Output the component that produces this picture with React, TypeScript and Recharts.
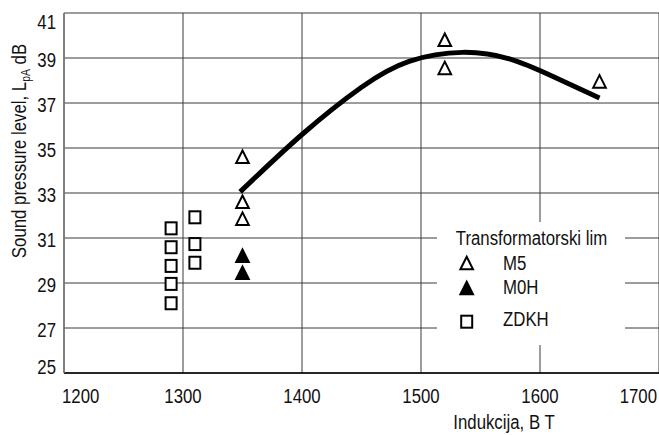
import React from "react";
import {
  ComposedChart,
  Line,
  Scatter,
  XAxis,
  YAxis,
  CartesianGrid,
  Legend,
} from "recharts";

const FONT = "'Liberation Sans', Arial, sans-serif";
const SX = 0.8; // horizontal condensing to mimic a narrow face
const FS = 21;

const xTicks = [1200, 1300, 1400, 1500, 1600, 1700];
const yTicks = [25, 27, 29, 31, 33, 35, 37, 39, 41];

// fitted curve (thick black line)
const curveX = [1348, 1400, 1450, 1490, 1535, 1575, 1610, 1650];
const curveY = [33.05, 35.6, 37.7, 38.85, 39.25, 38.95, 38.2, 37.22];

// M5 (open triangles)
const m5X = [1350, 1350, 1350, 1520, 1520, 1650];
const m5Y = [34.6, 32.6, 31.85, 39.8, 38.55, 37.95];

// M0H (filled triangles)
const m0hX = [1350, 1350];
const m0hY = [30.2, 29.45];

// ZDKH (open squares)
const zdkhX = [1290, 1290, 1290, 1290, 1290, 1310, 1310, 1310];
const zdkhY = [31.43, 30.59, 29.76, 28.96, 28.1, 31.92, 30.73, 29.9];

const toPoints = (xs: number[], ys: number[]) => xs.map((x, i) => ({ x, y: ys[i] }));

const curveData = toPoints(curveX, curveY);
const m5Data = toPoints(m5X, m5Y);
const m0hData = toPoints(m0hX, m0hY);
const zdkhData = toPoints(zdkhX, zdkhY);

const NText = ({
  x,
  y,
  anchor = "start",
  size = FS,
  rotate = 0,
  children,
}: {
  x: number;
  y: number;
  anchor?: "start" | "middle" | "end";
  size?: number;
  rotate?: number;
  children: React.ReactNode;
}) => (
  <text
    x={0}
    y={0}
    transform={`translate(${x}, ${y})${rotate ? ` rotate(${rotate})` : ""} scale(${SX}, 1)`}
    textAnchor={anchor}
    fontFamily={FONT}
    fontSize={size}
    fill="#111"
  >
    {children}
  </text>
);

const triPath = (cx: number, cy: number) =>
  `M${cx},${cy - 6.5} L${cx + 6.3},${cy + 6} L${cx - 6.3},${cy + 6} Z`;

const OpenTri = (props: any) => {
  const { cx, cy } = props;
  if (cx == null || cy == null) return null;
  return <path d={triPath(cx, cy)} fill="#fff" stroke="#000" strokeWidth={2} />;
};
const FilledTri = (props: any) => {
  const { cx, cy } = props;
  if (cx == null || cy == null) return null;
  return <path d={triPath(cx, cy)} fill="#000" stroke="#000" strokeWidth={2} />;
};
const OpenSquare = (props: any) => {
  const { cx, cy } = props;
  if (cx == null || cy == null) return null;
  return <rect x={cx - 5.5} y={cy - 6} width={11} height={12} fill="#fff" stroke="#000" strokeWidth={2} />;
};

const XTick = (props: any) => {
  const { payload, index } = props;
  const c = payload.coordinate;
  let x = c;
  let anchor: "start" | "middle" | "end" = "middle";
  if (index === 0) {
    x = c - 2;
    anchor = "start";
  } else if (index === xTicks.length - 1) {
    x = c - 2;
    anchor = "end";
  }
  return (
    <NText x={x} y={402.5} anchor={anchor}>
      {payload.value}
    </NText>
  );
};

const YTick = (props: any) => {
  const { payload } = props;
  const c = payload.coordinate;
  let center = c + 1;
  if (payload.value === 41) center = c + 8.5;
  if (payload.value === 25) center = c - 7;
  return (
    <NText x={56} y={center + 7.5} anchor="end">
      {payload.value}
    </NText>
  );
};

const XTitle = () => (
  <NText x={504} y={428.5} anchor="middle">
    Indukcija, B T
  </NText>
);

const YTitle = () => (
  <NText x={26} y={151} anchor="middle" rotate={-90}>
    <tspan>Sound pressure level, L</tspan>
    <tspan fontSize={13} dy={4}>pA</tspan>
    <tspan dy={-4}> dB</tspan>
  </NText>
);

const LegendBox = () => (
  <svg width={188} height={123} style={{ display: "block" }}>
    <rect x={0} y={0} width={188} height={123} fill="#fff" />
    <NText x={94.5} y={22.5} anchor="middle">Transformatorski lim</NText>
    <path d={triPath(29.7, 41.3)} fill="#fff" stroke="#000" strokeWidth={2} />
    <NText x={66} y={47.5}>M5</NText>
    <path d={triPath(29.7, 66.3)} fill="#000" stroke="#000" strokeWidth={2} />
    <NText x={66} y={71.7}>M0H</NText>
    <rect x={29.7 - 5.5} y={99.7 - 6} width={11} height={12} fill="#fff" stroke="#000" strokeWidth={2} />
    <NText x={66} y={103.7}>ZDKH</NText>
  </svg>
);

export default function App() {
  return (
    <div style={{ position: "absolute", left: 0, top: 0, width: 660, height: 435, background: "#fff" }}>
      <ComposedChart width={660} height={435} margin={{ top: 13, right: 1, bottom: 0, left: 0 }}>
        <CartesianGrid
          stroke="#3a3a3a"
          strokeWidth={1}
          horizontalValues={yTicks}
          verticalValues={xTicks}
        />
        <XAxis
          type="number"
          dataKey="x"
          domain={[1200, 1700]}
          ticks={xTicks}
          allowDataOverflow
          height={62}
          axisLine={{ stroke: "#000", strokeWidth: 1.5 }}
          tickLine={false}
          tick={<XTick />}
          label={<XTitle />}
          interval={0}
        />
        <YAxis
          type="number"
          dataKey="y"
          domain={[25, 41]}
          ticks={yTicks}
          allowDataOverflow
          width={64}
          axisLine={{ stroke: "#777", strokeWidth: 1.5 }}
          tickLine={false}
          tick={<YTick />}
          label={<YTitle />}
          interval={0}
        />
        <Line
          data={curveData}
          dataKey="y"
          type="natural"
          stroke="#000"
          strokeWidth={5}
          dot={false}
          activeDot={false}
          isAnimationActive={false}
          legendType="none"
        />
        <Scatter data={m5Data} dataKey="y" shape={<OpenTri />} isAnimationActive={false} />
        <Scatter data={m0hData} dataKey="y" shape={<FilledTri />} isAnimationActive={false} />
        <Scatter data={zdkhData} dataKey="y" shape={<OpenSquare />} isAnimationActive={false} />
        <Legend
          layout="horizontal"
          verticalAlign="middle"
          align="center"
          content={<LegendBox />}
          wrapperStyle={{ position: "absolute", left: 437, top: 222, width: 188, height: 123 }}
        />
      </ComposedChart>
    </div>
  );
}
